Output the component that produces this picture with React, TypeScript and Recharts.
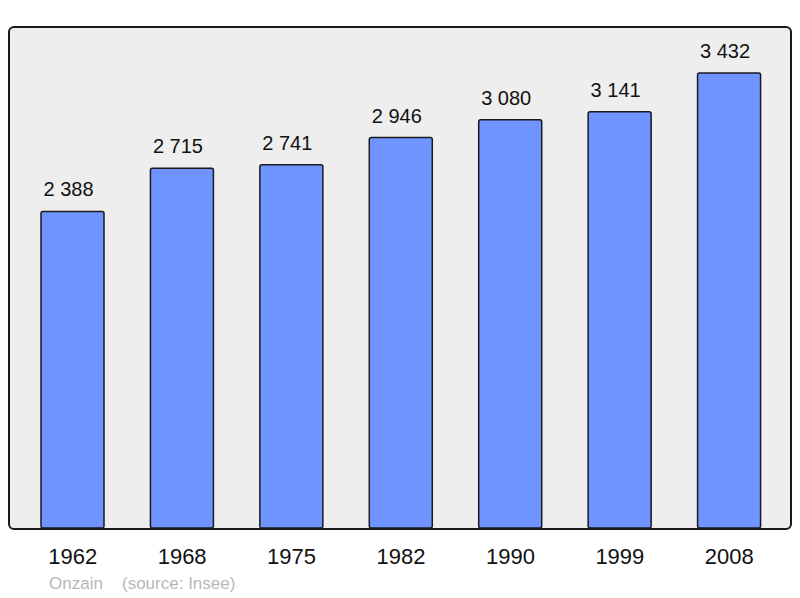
import { BarChart, Bar, XAxis, YAxis, LabelList } from "recharts"

const years = ["1962", "1968", "1975", "1982", "1990", "1999", "2008"]
const population = [2388, 2715, 2741, 2946, 3080, 3141, 3432]

const commune = "Onzain"
const source = "(source: Insee)"

const FONT = '"Liberation Sans", Arial, sans-serif'

const formatValue = (v: unknown) =>
    String(v).replace(/\B(?=(\d{3})+(?!\d))/g, " ")

export default function App() {
    const data = years.map((year, i) => ({ year, population: population[i] }))

    return (
        <div style={{ position: "absolute", left: 0, top: 0, width: 800, height: 598, fontFamily: FONT }}>
            <div
                style={{
                    position: "absolute",
                    left: 8,
                    top: 26,
                    width: 784,
                    height: 504,
                    boxSizing: "border-box",
                    border: "2px solid #1a1a1a",
                    borderRadius: 6,
                    background: "#eeeeee",
                }}
            />
            <div style={{ position: "absolute", left: 0, top: 0 }}>
                <BarChart
                    width={800}
                    height={598}
                    data={data}
                    margin={{ top: 27, right: 16, bottom: 0, left: 18 }}
                >
                    <XAxis
                        dataKey="year"
                        height={70}
                        axisLine={false}
                        tickLine={false}
                        tickMargin={14}
                        interval={0}
                        tick={{ fontSize: 22, fill: "#111", fontFamily: FONT }}
                    />
                    <YAxis hide domain={[0, 3780]} />
                    <Bar
                        dataKey="population"
                        barSize={63}
                        fill="#7094ff"
                        stroke="#1a1a1a"
                        strokeWidth={1.5}
                        radius={2}
                        isAnimationActive={false}
                    >
                        <LabelList
                            dataKey="population"
                            position="top"
                            offset={15}
                            dx={-4}
                            formatter={formatValue}
                            style={{ fontSize: 20, fill: "#111", fontFamily: FONT }}
                        />
                    </Bar>
                </BarChart>
            </div>
            <div style={{ position: "absolute", left: 49, top: 574, fontSize: 17, color: "#b8b8b8", whiteSpace: "nowrap" }}>
                {commune}
            </div>
            <div style={{ position: "absolute", left: 122, top: 574, fontSize: 17, color: "#b8b8b8", whiteSpace: "nowrap" }}>
                {source}
            </div>
        </div>
    )
}
